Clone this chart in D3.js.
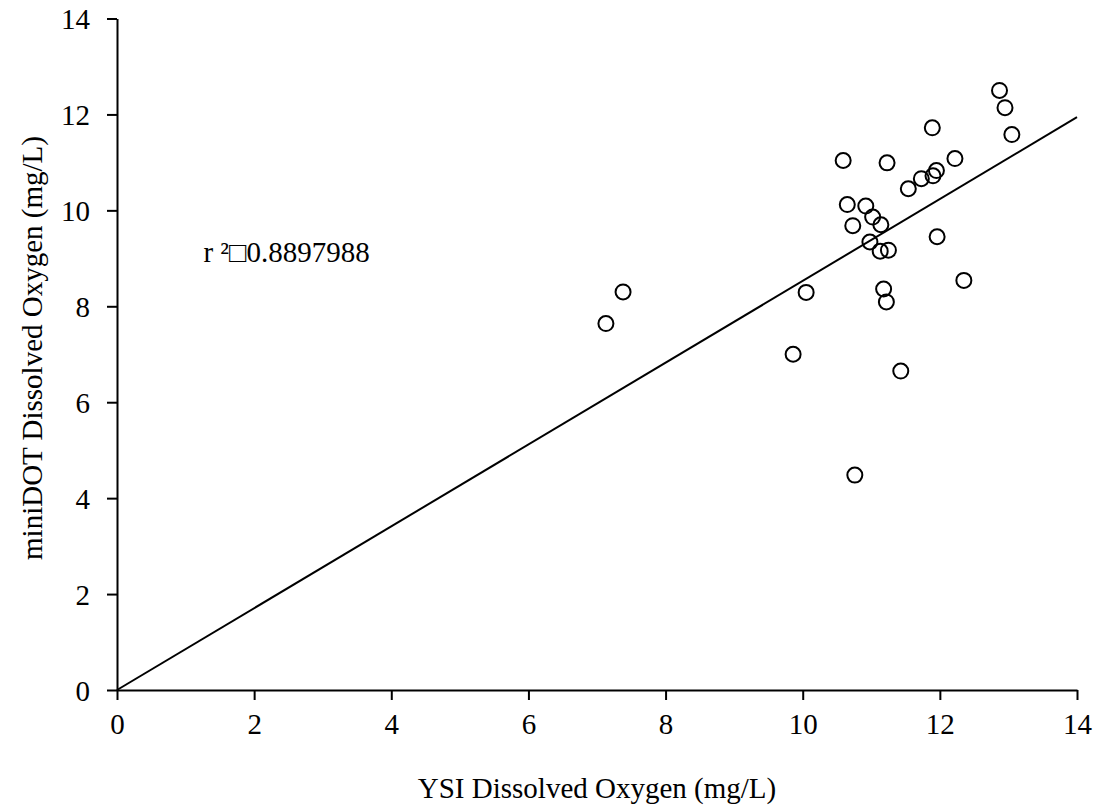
<!DOCTYPE html>
<html>
<head>
<meta charset="utf-8">
<script src="https://cdn.jsdelivr.net/npm/d3@7"></script>
<style>
  html, body { margin: 0; padding: 0; background: #fff; }
  svg text { font-family: "Liberation Serif", "Times New Roman", serif; fill: #000; }
</style>
</head>
<body>
<svg id="chart" width="1098" height="811"></svg>
<script>
// ---- data ----
const ysi = [7.13, 7.38, 9.86, 10.05, 10.59, 10.65, 10.73, 10.76, 10.92, 10.98, 11.02, 11.14, 11.13, 11.18, 11.23, 11.22, 11.25, 11.43, 11.54, 11.73, 11.89, 11.95, 11.90, 11.96, 12.22, 12.35, 12.87, 12.95, 13.05];
const minidot = [7.64, 8.30, 7.00, 8.29, 11.04, 10.12, 9.68, 4.48, 10.09, 9.34, 9.86, 9.70, 9.15, 8.36, 10.99, 8.09, 9.17, 6.65, 10.45, 10.66, 11.72, 10.83, 10.72, 9.45, 11.08, 8.54, 12.50, 12.14, 11.58];
const fitSlope = 0.853;
const r2Label = "r \u00B2\u25A10.8897988";
const xTicks = [0, 2, 4, 6, 8, 10, 12, 14];
const yTicks = [0, 2, 4, 6, 8, 10, 12, 14];
const xTitle = "YSI Dissolved Oxygen (mg/L)";
const yTitle = "miniDOT Dissolved Oxygen (mg/L)";

// ---- layout ----
const svg = d3.select("#chart");
const x = d3.scaleLinear().domain([0, 14]).range([117, 1077]);
const y = d3.scaleLinear().domain([0, 14]).range([690, 18.5]);
const fs = 29;

// axes
const xAxis = svg.append("g").attr("transform", `translate(0,${y(0)})`)
  .call(d3.axisBottom(x).tickValues(xTicks).tickSize(10).tickPadding(14).tickSizeOuter(0));
const yAxis = svg.append("g").attr("transform", `translate(${x(0)},0)`)
  .call(d3.axisLeft(y).tickValues(yTicks).tickSize(10).tickPadding(17).tickSizeOuter(0));
[xAxis, yAxis].forEach(a => {
  a.select(".domain").attr("stroke", "#000").attr("stroke-width", 2);
  a.selectAll(".tick line").attr("stroke", "#000").attr("stroke-width", 2);
  a.selectAll(".tick text").style("font-family", "Liberation Serif, serif").style("font-size", fs + "px").attr("fill", "#000");
});
xAxis.selectAll(".tick text").attr("dy", "0.7em");
yAxis.selectAll(".tick text").attr("dy", "0.35em");

// fit line through origin
svg.append("line")
  .attr("x1", x(0)).attr("y1", y(0))
  .attr("x2", x(14)).attr("y2", y(14 * fitSlope))
  .attr("stroke", "#000").attr("stroke-width", 2);

// points
svg.append("g").selectAll("circle")
  .data(ysi.map((v, i) => [v, minidot[i]]))
  .join("circle")
  .attr("cx", d => x(d[0]))
  .attr("cy", d => y(d[1]))
  .attr("r", 7.5)
  .attr("fill", "none")
  .attr("stroke", "#000")
  .attr("stroke-width", 2);

// r² annotation
svg.append("text")
  .attr("x", x(1.26)).attr("y", y(8.92))
  .style("font-size", fs + "px")
  .text(r2Label);

// titles
svg.append("text")
  .attr("x", 597).attr("y", 798)
  .attr("text-anchor", "middle")
  .style("font-size", fs + "px")
  .text(xTitle);
svg.append("text")
  .attr("transform", `translate(42,348) rotate(-90)`)
  .attr("text-anchor", "middle")
  .style("font-size", fs + "px")
  .text(yTitle);
</script>
</body>
</html>
